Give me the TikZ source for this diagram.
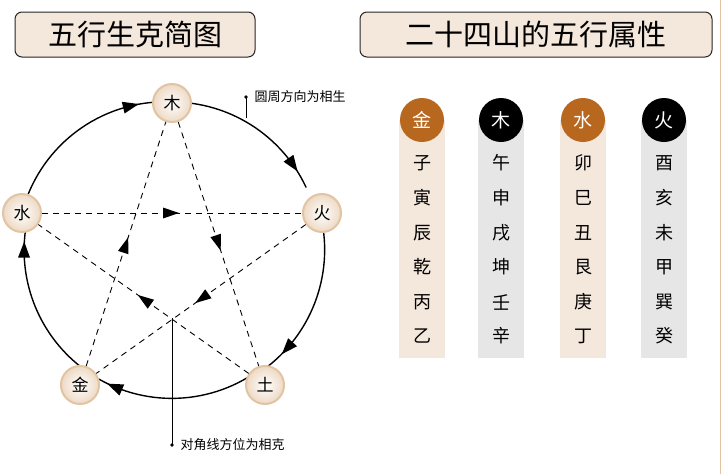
\documentclass[tikz,border=0pt]{standalone}
\usepackage{fontspec}
\newfontfamily\cjk{Noto Sans CJK SC}
\usetikzlibrary{decorations.markings,arrows.meta}
\definecolor{tan}{HTML}{E3C4A2}
\definecolor{ora}{HTML}{B8671F}
\definecolor{boxbg}{HTML}{F4E7DC}
\definecolor{gbg}{HTML}{E6E6E6}
\begin{document}
\begin{tikzpicture}[x=1pt,y=-1pt,font=\cjk,
  el/.style={circle,minimum size=38pt,inner sep=0pt,draw=tan,line width=2pt,inner color=white,outer color=boxbg!60!tan,font=\cjk\fontsize{17}{17}\selectfont},
  title/.style={draw=black!85,line width=1pt,rounded corners=7pt,fill=boxbg,minimum height=45pt,font=\cjk\fontsize{29}{29}\selectfont},
  arcarr/.style={line width=1.4pt,postaction={decorate},decoration={markings,mark=at position 0.85 with {\fill[solid] (7pt,0pt) -- (-9pt,6pt) -- (-9pt,-6pt) -- cycle;}}},
  dasharr/.style={line width=0.9pt,dash pattern=on 6pt off 5pt,postaction={decorate},decoration={markings,mark=at position 0.5 with {\fill[solid] (7pt,0pt) -- (-9pt,5.5pt) -- (-9pt,-5.5pt) -- cycle;}}},
  head/.style={circle,minimum size=44pt,inner sep=0pt,text=white,font=\cjk\fontsize{19}{19}\selectfont},
  ch/.style={font=\cjk\fontsize{18}{18}\selectfont},
  note/.style={font=\cjk\fontsize{13}{13}\selectfont,anchor=west}]
\useasboundingbox (0,0) rectangle (722,474);
\fill[white] (0,0) rectangle (722,474);
\draw[tan,line width=1.5pt] (720.5,0) -- (720.5,474);
\node[title,minimum width=240pt] (t1) at (135,34.5) {五行生克简图};
\node[title,minimum width=352pt] (t2) at (536,34.5) {二十四山的五行属性};
% circle arcs
\draw[arcarr] (22,213) arc[start angle=194.4,end angle=268,radius=148];
\draw[arcarr] (172,102) arc[start angle=270,end angle=335,radius=148];
\draw[arcarr] (320,213) arc[start angle=-14.4,end angle=52,radius=148];
\draw[arcarr] (263,367) arc[start angle=52,end angle=124,radius=148];
\draw[arcarr] (81,367) arc[start angle=128,end angle=190,radius=148];
\node[el] (mu) at (172,103) {木};
\node[el] (huo) at (322,213) {火};
\node[el] (tu) at (265,385) {土};
\node[el] (jin) at (80,385) {金};
\node[el] (shui) at (22,213) {水};
\draw[dasharr] (mu) -- (tu);
\draw[dasharr] (tu) -- (shui);
\draw[dasharr] (shui) -- (huo);
\draw[dasharr] (huo) -- (jin);
\draw[dasharr] (jin) -- (mu);
% notes
\coordinate (n1) at (246,118);
\fill (246,97) circle (1.8pt);
\draw[line width=0.8pt] (246,97) -- (n1);
\node[note] (nt1) at (251,97) {圆周方向为相生};
\fill (172,445) circle (1.8pt);
\draw[line width=0.8pt] (172,445) -- (172,318);
\node[note] (nt2) at (177,445) {对角线方位为相克};
% columns
\foreach \x/\h/\hc/\bg/\a/\b/\cc/\d/\e/\f [count=\i] in
 {422/金/ora/boxbg/子/寅/辰/乾/丙/乙,
  501/木/black/gbg/午/申/戌/坤/壬/辛,
  583/水/ora/boxbg/卯/巳/丑/艮/庚/丁,
  664/火/black/gbg/酉/亥/未/甲/巽/癸}{
  \fill[\bg] (\x-23,120) rectangle (\x+23,358);
  \node[head,fill=\hc] (h\i) at (\x,120) {\h};
  \node[ch] at (\x,163) {\a};
  \node[ch] at (\x,198) {\b};
  \node[ch] at (\x,233) {\cc};
  \node[ch] at (\x,267) {\d};
  \node[ch] at (\x,302) {\e};
  \node[ch] at (\x,336) {\f};
}
\end{tikzpicture}
\end{document}
